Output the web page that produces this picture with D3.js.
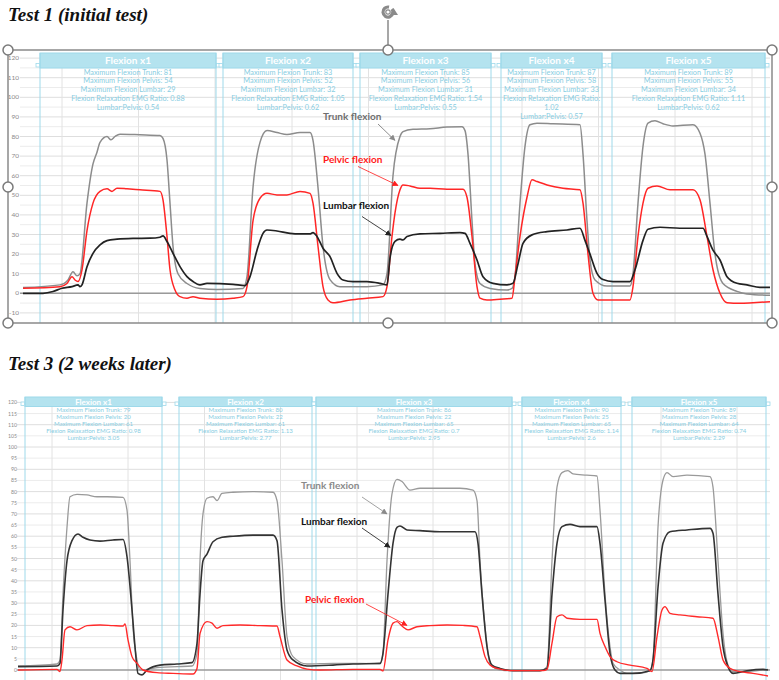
<!DOCTYPE html>
<html lang="en">
<head>
<meta charset="utf-8">
<title>Flexion tests</title>
<style>
  body { margin: 0; background: #fff; }
  svg { display: block; }
</style>
</head>
<body>
<script src="https://d3js.org/d3.v7.min.js"></script>
<script>
// time in seconds, values in degrees
var test1Trunk = [[2.3,2.9],[6.0,4.3],[6.8,6.8],[7.3,11],[7.7,8.9],[8.0,10],[8.7,46],[9.3,66],[9.7,72],[10.0,77],[10.7,80],[11.1,78.3],[11.5,80],[12.0,81.2],[14.0,80.9],[16.0,80.5],[16.3,79],[16.7,68],[17.0,46],[17.3,24],[17.8,10],[18.7,5],[20.0,2.5],[21.7,2],[24.3,2.5],[24.7,8.5],[25.3,54],[26.0,77],[26.7,83],[27.7,82],[28.7,81],[30.0,82],[31.0,82],[31.3,78],[31.8,54],[32.3,24],[33.0,7],[34.0,3.4],[36.7,3.4],[38.3,4.3],[38.7,10],[39.3,60],[40.0,80],[40.3,82.5],[41.3,83.7],[43.0,84],[44.7,84.8],[46.2,85],[46.5,83],[46.8,71],[47.2,37],[47.5,15],[48.0,5],[49.0,2.5],[50.7,1.7],[51.2,2.5],[51.5,8.5],[52.0,46],[52.5,75],[53.0,86],[53.7,86.8],[55.3,86.5],[58.0,86],[58.3,71],[58.7,37],[59.0,17],[59.5,6.8],[60.7,3.7],[63.0,3.7],[63.3,10],[63.8,46],[64.3,75],[64.8,86.8],[65.5,88],[66.3,86.5],[67.3,85.4],[69.3,86],[70.0,81.7],[70.5,71],[71.0,46],[71.5,20],[72.3,5],[73.7,1],[74.7,-0.3],[77.0,-1]];
var test1Pelvic = [[2.3,2.6],[6.0,3.4],[6.7,5],[7.2,8.5],[7.5,6.8],[7.8,6],[8.2,12],[8.7,32],[9.3,46],[10.0,52],[10.7,53.3],[11.2,52],[11.7,53.6],[12.7,53.3],[14.0,52.8],[16.0,52],[16.3,47.7],[16.7,29],[17.0,12],[17.5,1.7],[18.0,-1.7],[18.7,-2.5],[19.3,-1.7],[20.0,-2.5],[21.7,-3],[23.3,-2.5],[24.3,-1.7],[24.7,3.4],[25.3,37],[26.0,48.5],[26.7,51],[27.7,50.2],[28.7,50.2],[30.0,52],[31.0,51],[31.3,46],[31.8,24],[32.3,3.4],[32.8,-3.4],[33.3,-4.8],[35.0,-3.4],[36.7,-2.5],[38.3,-1.7],[38.7,3.4],[39.2,29],[39.5,41],[40.0,52.8],[40.3,55.3],[41.0,54.8],[42.0,53.6],[43.0,53.6],[44.7,53.1],[46.3,53.1],[46.7,49],[47.2,29],[47.7,3.4],[48.0,-2.5],[48.7,-3.4],[50.0,-3],[51.2,-2.5],[51.5,8.5],[52.0,29],[52.7,49],[53.2,57.9],[53.7,57],[54.7,55.3],[56.3,53.6],[58.0,52.8],[58.3,46],[58.8,20],[59.3,0],[59.8,-3.4],[61.3,-3.4],[63.0,-3.4],[63.3,3.4],[63.8,29],[64.3,46],[64.8,53.6],[65.7,54.8],[67.0,52.8],[69.3,52.8],[70.0,47.7],[70.7,29],[71.3,12],[72.0,0],[72.7,-4.8],[74.0,-5.1],[75.3,-4.8],[77.0,-4.3]];
var test1Lumbar = [[2.3,0],[4.3,0],[5.3,0.9],[6.2,2.6],[7.2,3.4],[7.8,4.3],[8.0,3.4],[8.2,4.3],[8.7,13.6],[9.3,20.4],[10.0,24.7],[10.7,26.9],[11.7,27.6],[13.3,28],[15.0,28.1],[16.0,28.6],[16.3,29.3],[16.7,26.4],[17.3,20.4],[18.0,13.6],[18.7,8.5],[19.3,6],[20.0,4.3],[20.7,5.1],[23.3,4.6],[24.5,3.9],[25.0,8.5],[25.7,22],[26.3,30.6],[26.7,32.3],[27.7,31.8],[29.0,30.6],[30.0,30.3],[31.0,30.3],[31.3,31],[31.7,29],[32.3,23],[33.0,18.7],[33.7,10.2],[34.3,6.8],[35.3,6],[36.7,6],[38.0,5.1],[38.7,4.3],[39.0,18],[39.5,26.5],[40.0,27.6],[40.3,27.2],[40.7,29],[42.0,30.3],[44.0,30.6],[46.0,31],[46.5,30.6],[47.0,25.5],[47.7,17],[48.3,8.5],[49.3,5.1],[50.7,4.3],[51.3,5.1],[51.8,15],[52.3,25.5],[53.2,29.8],[54.7,31.5],[56.7,32.3],[58.0,33.2],[58.5,27],[59.0,20],[59.7,10.2],[60.3,7],[61.3,6],[63.0,6],[63.5,12],[64.3,27],[64.8,32.7],[66.0,33.7],[68.0,33.2],[70.3,33.2],[70.7,29],[71.3,22],[72.0,17],[72.7,8.5],[73.7,5.1],[74.7,4.3],[76.0,3],[77.0,3]];

var test3Trunk = [[1.8,1.8],[5.7,2.7],[6.0,4.5],[6.3,34],[6.7,64],[7.0,77.7],[7.7,78.8],[8.7,78.5],[9.7,77.7],[10.7,77.7],[12.3,77.4],[12.7,71.7],[13.0,49],[13.3,19.4],[13.7,4.5],[14.0,0],[14.7,0.3],[16.0,1.2],[17.7,1.5],[19.2,1.8],[19.7,7.5],[20.0,49],[20.3,70],[20.7,77],[21.3,77.7],[21.7,76],[22.2,79.2],[23.3,79.7],[25.3,80],[27.3,79.7],[27.7,76],[28.2,49],[28.7,15],[29.3,6],[30.7,2.7],[33.3,3],[36.0,3],[38.0,2.7],[38.3,7.5],[38.7,49],[39.2,79],[39.7,85.5],[40.2,84.5],[41.0,80.7],[42.0,81.5],[44.0,81.5],[46.0,81.5],[47.3,80.7],[47.7,76],[48.0,49],[48.5,19.4],[49.0,3],[50.0,0],[51.3,-0.3],[54.0,-0.3],[54.7,1.5],[55.2,49],[55.7,82],[56.2,88.5],[56.8,89.4],[57.3,87.9],[58.7,87.4],[59.7,87],[60.0,71.7],[60.5,34],[61.0,10.5],[61.3,3],[62.0,0],[62.7,-1.5],[64.0,-1.5],[65.0,-0.3],[65.3,4.5],[65.8,64],[66.3,85.2],[66.7,88.5],[67.3,86.7],[68.7,87.4],[71.0,86.7],[71.3,82],[71.8,49],[72.3,16.4],[72.8,2.2],[73.3,-0.7],[74.7,-0.7],[76.3,0],[76.8,0.3]];
var test3Lumbar = [[1.8,1.5],[5.7,1.8],[6.0,3],[6.3,27],[6.7,49],[7.2,58],[7.8,61],[8.3,59.5],[9.0,58.3],[10.0,57.8],[11.3,58.3],[12.3,58.5],[12.7,50.8],[13.2,27],[13.5,10.5],[13.8,-1.5],[14.2,-2.2],[14.7,0],[16.0,2.2],[17.7,2.7],[19.2,3.3],[19.7,12],[20.0,34],[20.3,49],[20.7,52],[21.3,57.5],[22.2,59.5],[23.3,60],[25.3,60.5],[27.3,60.5],[27.7,58],[28.2,27],[28.7,9],[29.3,4.5],[30.7,1.8],[33.3,2.2],[35.3,2.7],[38.0,3],[38.3,7.5],[38.8,34],[39.3,56.8],[39.7,64],[40.0,64.6],[40.7,62.8],[42.0,62.5],[44.0,62],[47.5,62],[47.8,56.8],[48.2,34],[48.7,10.5],[49.2,2.2],[50.0,0.7],[51.3,-0.3],[54.0,-0.3],[54.7,0.7],[55.2,34],[55.7,56.8],[56.2,64.3],[57.0,65.3],[58.0,64.3],[59.7,64.3],[60.0,56.8],[60.5,31.4],[61.0,7.5],[61.5,0],[62.0,-1.5],[63.3,-1.5],[65.0,-0.3],[65.3,4.5],[65.8,37],[66.3,56.8],[67.0,62],[68.7,62.8],[71.0,63.5],[71.3,61.3],[71.8,34],[72.3,10.5],[72.8,1.5],[73.3,-1.5],[74.7,-0.3],[76.3,0.3],[76.8,0]];
var test3Pelvic = [[1.8,0],[5.7,0.3],[6.0,-0.7],[6.2,4.5],[6.5,18],[7.0,19.4],[7.7,18],[8.7,19.9],[10.0,20.2],[11.3,19.9],[12.3,19.7],[12.5,20.6],[12.8,13.5],[13.2,6],[13.7,3],[14.3,0],[15.7,-1.2],[17.3,-1.5],[19.3,-1.8],[19.7,0.7],[20.0,16.4],[20.7,21.7],[21.2,21],[21.7,18.7],[22.3,19.9],[24.0,20.2],[26.0,19.9],[27.7,19.7],[28.0,15],[28.7,4.5],[29.7,1.8],[30.7,0.4],[32.0,0],[35.3,0.3],[38.0,0.3],[38.3,-0.4],[38.8,13.5],[39.3,21],[39.7,21.7],[40.2,19.7],[40.8,18],[41.7,19.4],[43.0,19.9],[44.7,20.2],[46.3,20],[47.7,19.4],[48.0,15],[48.5,6],[49.0,2.2],[49.7,0.7],[51.3,-0.3],[54.3,-0.3],[54.7,0.3],[55.2,12],[55.7,23.9],[56.2,24.7],[56.7,23.2],[58.0,22.7],[59.7,22.7],[60.0,16.4],[60.5,10.5],[61.0,6],[61.7,3.7],[63.0,2.2],[64.7,0.7],[65.2,-0.7],[65.7,15],[66.2,26.9],[66.5,28.4],[67.0,25.4],[68.0,24.7],[69.7,23.9],[71.3,23.2],[71.8,15],[72.3,4.5],[73.0,0.7],[74.0,-0.7],[75.3,-1.5],[76.8,-2.7]];

// flexion windows (start, end in seconds)
var test1Windows = [[4.0,21.6],[22.3,35.3],[36.0,49.1],[50.1,60.2],[61.2,76.5]];
var test3Windows = [[2.5,16.2],[17.9,31.2],[31.6,51.2],[52.2,62.1],[63.2,76.6]];
var windowTitles = ["Flexion x1", "Flexion x2", "Flexion x3", "Flexion x4", "Flexion x5"];

var test1Notes = [
  ["Maximum Flexion Trunk: 81", "Maximum Flexion Pelvis: 54", "Maximum Flexion Lumbar: 29", "Flexion Relaxation EMG Ratio: 0.88", "Lumbar:Pelvis: 0.54"],
  ["Maximum Flexion Trunk: 83", "Maximum Flexion Pelvis: 52", "Maximum Flexion Lumbar: 32", "Flexion Relaxation EMG Ratio: 1.05", "Lumbar:Pelvis: 0.62"],
  ["Maximum Flexion Trunk: 85", "Maximum Flexion Pelvis: 56", "Maximum Flexion Lumbar: 31", "Flexion Relaxation EMG Ratio: 1.54", "Lumbar:Pelvis: 0.55"],
  ["Maximum Flexion Trunk: 87", "Maximum Flexion Pelvis: 58", "Maximum Flexion Lumbar: 33", "Flexion Relaxation EMG Ratio:", "1.02", "Lumbar:Pelvis: 0.57"],
  ["Maximum Flexion Trunk: 89", "Maximum Flexion Pelvis: 55", "Maximum Flexion Lumbar: 34", "Flexion Relaxation EMG Ratio: 1.11", "Lumbar:Pelvis: 0.62"]
];
var test3Notes = [
  ["Maximum Flexion Trunk: 79", "Maximum Flexion Pelvis: 20", "Maximum Flexion Lumbar: 61", "Flexion Relaxation EMG Ratio: 0.98", "Lumbar:Pelvis: 3.05"],
  ["Maximum Flexion Trunk: 80", "Maximum Flexion Pelvis: 22", "Maximum Flexion Lumbar: 61", "Flexion Relaxation EMG Ratio: 1.13", "Lumbar:Pelvis: 2.77"],
  ["Maximum Flexion Trunk: 86", "Maximum Flexion Pelvis: 22", "Maximum Flexion Lumbar: 65", "Flexion Relaxation EMG Ratio: 0.7", "Lumbar:Pelvis: 2.95"],
  ["Maximum Flexion Trunk: 90", "Maximum Flexion Pelvis: 25", "Maximum Flexion Lumbar: 65", "Flexion Relaxation EMG Ratio: 1.14", "Lumbar:Pelvis: 2.6"],
  ["Maximum Flexion Trunk: 89", "Maximum Flexion Pelvis: 28", "Maximum Flexion Lumbar: 64", "Flexion Relaxation EMG Ratio: 0.74", "Lumbar:Pelvis: 2.29"]
];

var test1Ticks = [120, 110, 100, 90, 80, 70, 60, 50, 40, 30, 20, 10, 0, -10];
var test3Ticks = [120, 115, 110, 105, 100, 95, 90, 85, 80, 75, 70, 65, 60, 55, 50, 45, 40, 35, 30, 25, 20, 15, 10, 5, 0];
var test1Grid = [6.2, 13.85, 21.5, 29.2, 36.85, 44.5, 52.2, 59.85, 67.5, 75.2];
var test3Grid = [5.2, 12.8, 20.45, 28.05, 35.7, 43.3, 50.9, 58.5, 66.1, 73.7];

var w = 779, h = 680;
var svg = d3.select("body").append("svg").attr("width", w).attr("height", h);
var font = "Lato, 'Open Sans', sans-serif";
var cyan = "#9ed9ea";

svg.append("defs").selectAll("marker")
  .data([["arrGray", "#8a8a8a"], ["arrRed", "#ff2020"], ["arrBlack", "#222"]])
  .enter().append("marker")
  .attr("id", function(d) { return d[0]; })
  .attr("viewBox", "0 0 10 10").attr("refX", 9).attr("refY", 5)
  .attr("markerWidth", 6).attr("markerHeight", 6)
  .attr("markerUnits", "userSpaceOnUse")
  .attr("orient", "auto")
  .append("path").attr("d", "M0,0L10,5L0,10z")
  .attr("fill", function(d) { return d[1]; });

var x = d3.scaleLinear().domain([0, 78]).range([0, 780]);

function drawPanel(p) {
  var g = svg.append("g");
  var y = d3.scaleLinear().domain([0, 120]).range(p.yRange);

  // title
  svg.append("text").attr("x", 8).attr("y", p.titleY)
    .attr("font-family", "'Liberation Serif', 'Times New Roman', serif")
    .attr("font-weight", "bold").attr("font-style", "italic")
    .attr("font-size", 19).attr("fill", "#111").text(p.title);

  // horizontal grid
  g.selectAll(".hg").data(d3.range(p.minorMin, 121, 5)).enter().append("line")
    .attr("x1", p.x0).attr("x2", 770)
    .attr("y1", function(d) { return y(d); }).attr("y2", function(d) { return y(d); })
    .attr("stroke", function(d) { return d % 10 === 0 ? "#dedede" : "#ececec"; })
    .attr("stroke-width", 1);

  // vertical grid
  g.selectAll(".vg").data(p.grid).enter().append("line")
    .attr("x1", function(d) { return x(d); }).attr("x2", function(d) { return x(d); })
    .attr("y1", p.boxTop).attr("y2", p.gridBottom)
    .attr("stroke", "#e2e2e2").attr("stroke-width", 1);

  // y tick labels
  g.selectAll(".tk").data(p.ticks).enter().append("text")
    .attr("x", p.labelX).attr("y", function(d) { return y(d) + 2; })
    .attr("text-anchor", "end").attr("font-family", font)
    .attr("font-size", p.tickSize).attr("fill", "#8a8a8a")
    .text(function(d) { return d; });

  // flexion windows
  var win = g.selectAll(".win").data(p.windows).enter().append("g");
  win.append("rect")
    .attr("x", function(d) { return x(d[0]); }).attr("y", p.boxTop)
    .attr("width", function(d) { return x(d[1]) - x(d[0]); })
    .attr("height", p.headH)
    .attr("fill", "#b4e3ef").attr("stroke", cyan).attr("stroke-width", 1);
  win.append("line")
    .attr("x1", function(d) { return x(d[0]); }).attr("x2", function(d) { return x(d[0]); })
    .attr("y1", p.boxTop).attr("y2", p.gridBottom)
    .attr("stroke", cyan).attr("stroke-width", 1);
  win.append("line")
    .attr("x1", function(d) { return x(d[1]); }).attr("x2", function(d) { return x(d[1]); })
    .attr("y1", p.boxTop).attr("y2", p.gridBottom)
    .attr("stroke", cyan).attr("stroke-width", 1);
  win.append("text")
    .attr("x", function(d) { return (x(d[0]) + x(d[1])) / 2; })
    .attr("y", p.boxTop + p.headH / 2 + p.headSize * 0.36)
    .attr("text-anchor", "middle").attr("font-family", font).attr("font-weight", "bold")
    .attr("font-size", p.headSize).attr("fill", "#fff")
    .text(function(d, i) { return windowTitles[i]; });
  win.each(function(d, i) {
    var cx = (x(d[0]) + x(d[1])) / 2;
    d3.select(this).selectAll(".note").data(p.notes[i]).enter().append("text")
      .attr("x", cx)
      .attr("y", function(s, j) { return p.boxTop + p.headH + p.noteY0 + j * p.noteStep; })
      .attr("text-anchor", "middle").attr("font-family", font)
      .attr("font-size", p.noteSize).attr("fill", "#88cde2")
      .text(function(s) { return s; });
  });
  // small handles at header ends
  var hs = [];
  p.windows.forEach(function(d) { hs.push(d[0]); hs.push(d[1]); });
  g.selectAll(".hs").data(hs).enter().append("rect")
    .attr("x", function(d, i) { return x(d) + (i % 2 === 0 ? -4 : 0.5); })
    .attr("y", p.boxTop + p.headH - 4.5)
    .attr("width", 3.5).attr("height", 3.5)
    .attr("fill", "#fff").attr("stroke", cyan).attr("stroke-width", 0.8);

  // zero line
  g.append("line").attr("x1", p.x0).attr("x2", 770)
    .attr("y1", y(0)).attr("y2", y(0))
    .attr("stroke", "#9a9a9a").attr("stroke-width", 1.4);

  // series
  var line = d3.line()
    .x(function(d) { return x(d[0]); })
    .y(function(d) { return y(d[1]); })
    .curve(d3.curveMonotoneX);
  p.series.forEach(function(s) {
    g.append("path").datum(s.data).attr("d", line)
      .attr("fill", "none").attr("stroke", s.color)
      .attr("stroke-width", s.width).attr("stroke-linejoin", "round");
  });

  // annotations
  p.labels.forEach(function(a) {
    g.append("text").attr("x", a.tx).attr("y", a.ty)
      .attr("font-family", font).attr("font-weight", "bold")
      .attr("font-size", p.labelSize).attr("fill", a.color).text(a.text);
    g.append("line").attr("x1", a.ax).attr("y1", a.ay)
      .attr("x2", x(a.tip[0])).attr("y2", y(a.tip[1]))
      .attr("stroke", a.color).attr("stroke-width", 0.8)
      .attr("marker-end", "url(#" + a.marker + ")");
  });
}

drawPanel({
  title: "Test 1 (initial test)", titleY: 21,
  yRange: [293.3, 58.1], minorMin: -10, x0: 20, labelX: 19, tickSize: 6.5,
  ticks: test1Ticks, grid: test1Grid, windows: test1Windows, notes: test1Notes,
  boxTop: 53, headH: 15, headSize: 10, gridBottom: 323,
  noteY0: 6.5, noteStep: 8.8, noteSize: 7.3, labelSize: 10,
  series: [
    { data: test1Trunk, color: "#8c8c8c", width: 1.5 },
    { data: test1Pelvic, color: "#ff2626", width: 1.5 },
    { data: test1Lumbar, color: "#222", width: 1.7 }
  ],
  labels: [
    { text: "Trunk flexion", color: "#6f6f6f", tx: 323, ty: 120, ax: 378, ay: 124, tip: [39.5, 78], marker: "arrGray" },
    { text: "Pelvic flexion", color: "#ff1a1a", tx: 323, ty: 162.5, ax: 358, ay: 166.5, tip: [39.8, 55], marker: "arrRed" },
    { text: "Lumbar flexion", color: "#111", tx: 323, ty: 208.5, ax: 362, ay: 216.5, tip: [39.1, 29.5], marker: "arrBlack" }
  ]
});

drawPanel({
  title: "Test 3 (2 weeks later)", titleY: 370,
  yRange: [670, 402.4], minorMin: 5, x0: 17, labelX: 17, tickSize: 5.2,
  ticks: test3Ticks, grid: test3Grid, windows: test3Windows, notes: test3Notes,
  boxTop: 397, headH: 9.5, headSize: 8, gridBottom: 680,
  noteY0: 5.8, noteStep: 6.9, noteSize: 6.1, labelSize: 10,
  series: [
    { data: test3Trunk, color: "#9a9a9a", width: 1.3 },
    { data: test3Lumbar, color: "#333", width: 1.6 },
    { data: test3Pelvic, color: "#ff2a2a", width: 1.4 }
  ],
  labels: [
    { text: "Trunk flexion", color: "#8a8a8a", tx: 301, ty: 488.5, ax: 362, ay: 497, tip: [38.7, 70], marker: "arrGray" },
    { text: "Lumbar flexion", color: "#111", tx: 301, ty: 525, ax: 362, ay: 528, tip: [39.0, 55], marker: "arrBlack" },
    { text: "Pelvic flexion", color: "#ff1a1a", tx: 305, ty: 603, ax: 366, ay: 604, tip: [40.7, 20], marker: "arrRed" }
  ]
});

// selection frame around the first chart
var sel = svg.append("g");
sel.append("rect").attr("x", 8).attr("y", 50).attr("width", 764).attr("height", 273)
  .attr("fill", "none").attr("stroke", "#8a8a8a").attr("stroke-width", 1.5);
sel.append("line").attr("x1", 388).attr("x2", 388).attr("y1", 20).attr("y2", 50)
  .attr("stroke", "#8a8a8a").attr("stroke-width", 1.5);
var handles = [[8,50],[388,50],[772,50],[8,187],[772,187],[8,323],[388,323],[772,323]];
sel.selectAll("circle").data(handles).enter().append("circle")
  .attr("cx", function(d) { return d[0]; }).attr("cy", function(d) { return d[1]; })
  .attr("r", 5).attr("fill", "#fff").attr("stroke", "#7a7a7a").attr("stroke-width", 1.5);
var arc = d3.arc().innerRadius(5).outerRadius(5).startAngle(0.9).endAngle(2 * Math.PI + 0.2);
sel.append("path").attr("transform", "translate(388,12)").attr("d", arc())
  .attr("fill", "none").attr("stroke", "#8a8a8a").attr("stroke-width", 3.2);
sel.append("path").attr("d", "M393.5,8 L398,15 L390,15 Z").attr("fill", "#8a8a8a");
sel.append("circle").attr("cx", 388).attr("cy", 12).attr("r", 2.2)
  .attr("fill", "none").attr("stroke", "#8a8a8a").attr("stroke-width", 1.2);
</script>
</body>
</html>
